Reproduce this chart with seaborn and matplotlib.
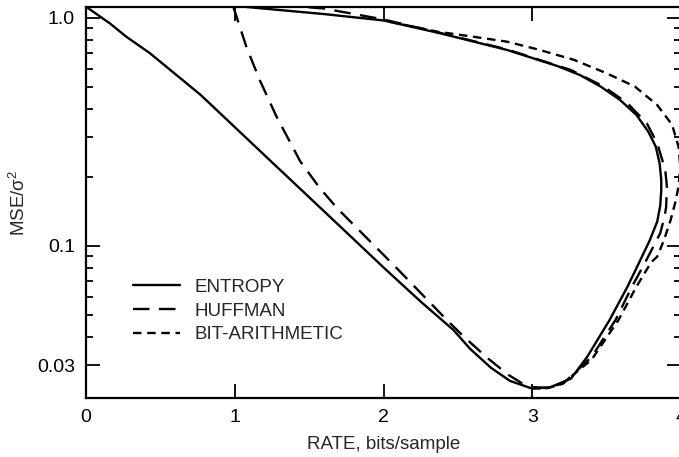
import numpy as np
import pandas as pd
import matplotlib
matplotlib.use("Agg")
import matplotlib.pyplot as plt
import seaborn as sns

# --- data (rate in bits/sample, MSE/sigma^2) ---
entropy_rate = [0.0, 0.16, 0.27, 0.43, 0.77, 1.2, 1.71, 2.0, 2.25, 2.47, 2.58, 2.72, 2.85,
                2.99, 3.12, 3.26, 3.37, 3.52, 3.64, 3.72, 3.79, 3.84, 3.86, 3.867, 3.867, 3.856,
                3.83, 3.78, 3.70, 3.59, 3.46, 3.32, 3.17, 2.83, 2.38, 2.0, 1.6, 1.19, 1.0]
entropy_mse = [1.12, 0.947, 0.828, 0.70, 0.46, 0.25, 0.1215, 0.0805, 0.057, 0.0428, 0.0355,
               0.0293, 0.0256, 0.0238, 0.024, 0.0262, 0.0327, 0.0474, 0.0663, 0.085, 0.106,
               0.128, 0.15, 0.175, 0.195, 0.2305, 0.2727, 0.317, 0.3755, 0.437, 0.50, 0.562,
               0.615, 0.724, 0.857, 0.975, 1.04, 1.10, 1.13]

huffman_rate = [0.99, 1.08, 1.17, 1.28, 1.44, 1.57, 1.69, 2.08, 2.425, 2.54, 2.70, 2.84,
                2.97, 3.10, 3.21, 3.40, 3.56, 3.67, 3.76, 3.86, 3.89, 3.90, 3.905, 3.894, 3.84,
                3.77, 3.64, 3.48, 3.26, 2.83, 2.38, 2.0, 1.6, 1.3, 1.0]
huffman_mse = [1.12, 0.74, 0.53, 0.37, 0.235, 0.18, 0.146, 0.081, 0.0474, 0.040,
               0.0322, 0.0272, 0.0241, 0.0238, 0.025, 0.0327, 0.0474, 0.0663, 0.085, 0.1137,
               0.135, 0.1488, 0.182, 0.2154, 0.282, 0.345, 0.4226, 0.50, 0.591, 0.728, 0.86,
               0.985, 1.10, 1.14, 1.16]

bitarith_rate = [3.0, 3.09, 3.20, 3.40, 3.58, 3.70, 3.80, 3.84, 3.885, 3.93, 3.96, 3.983, 3.995,
                 3.983, 3.94, 3.84, 3.69, 3.50, 3.28, 3.05, 2.83, 2.60, 2.36, 2.04]
bitarith_mse = [0.0237, 0.0237, 0.0248, 0.0318, 0.0474, 0.0663, 0.085, 0.0898, 0.106, 0.130,
                0.154, 0.182, 0.223, 0.2727, 0.34, 0.415, 0.50, 0.572, 0.655, 0.724, 0.787,
                0.828, 0.871, 0.963]

series_names = ["ENTROPY", "HUFFMAN", "BIT-ARITHMETIC"]
y_major = [0.03, 0.1, 1.0]
y_major_labels = ["0.03", "0.1", "1.0"]
x_ticks = [0, 1, 2, 3, 4]

sns.set_style("ticks")
plt.rcParams["font.family"] = ["Liberation Sans", "DejaVu Sans"]
plt.rcParams["mathtext.fontset"] = "custom"
plt.rcParams["mathtext.rm"] = "Liberation Sans"
plt.rcParams["mathtext.default"] = "rm"

fig = plt.figure(figsize=(6.79, 4.57), dpi=100)
ax = fig.add_axes([0.1267, 0.1291, 0.8763, 0.8556])

curves = [
    (entropy_rate, entropy_mse, "-"),
    (huffman_rate, huffman_mse, (0, (7, 4))),
    (bitarith_rate, bitarith_mse, (0, (3.6, 2.4))),
]
for name, (xs, ys, ls) in zip(series_names, curves):
    d = pd.DataFrame({"rate": xs, "mse": ys})
    sns.lineplot(data=d, x="rate", y="mse", sort=False, estimator=None, color="black",
                 linestyle=ls, linewidth=1.7, label=name, ax=ax)

ax.set_yscale("log")
ax.set_xlim(0, 4)
ax.set_ylim(0.02154, 1.117)
ax.set_xticks(x_ticks)
ax.set_xticklabels([str(t) for t in x_ticks], fontsize=14)
ax.set_yticks(y_major)
ax.set_yticklabels(y_major_labels, fontsize=14)
ax.set_yticks([0.04, 0.05, 0.06, 0.07, 0.08, 0.09, 0.2, 0.3, 0.4, 0.5, 0.6, 0.7, 0.8, 0.9],
              minor=True)
ax.yaxis.set_minor_formatter(matplotlib.ticker.NullFormatter())
ax.tick_params(which="major", direction="in", length=10, width=1.3, top=True, right=True,
               pad=8, colors="black")
ax.tick_params(which="minor", direction="in", length=5, width=1.3, right=True, colors="black")
for s in ax.spines.values():
    s.set_linewidth(1.6)
    s.set_color("black")

ax.set_xlabel("RATE, bits/sample", fontsize=13.5, labelpad=7)
ax.set_ylabel("MSE/σ$^{2}$", fontsize=13.5, labelpad=6)

handles, labels = ax.get_legend_handles_labels()
ax.legend(handles, labels, loc="upper left", bbox_to_anchor=(0.079, 0.305), frameon=False,
          fontsize=13.5, handlelength=2.5, handletextpad=0.8, labelspacing=0.35,
          borderpad=0, borderaxespad=0)

fig.savefig("out.png", dpi=100)
